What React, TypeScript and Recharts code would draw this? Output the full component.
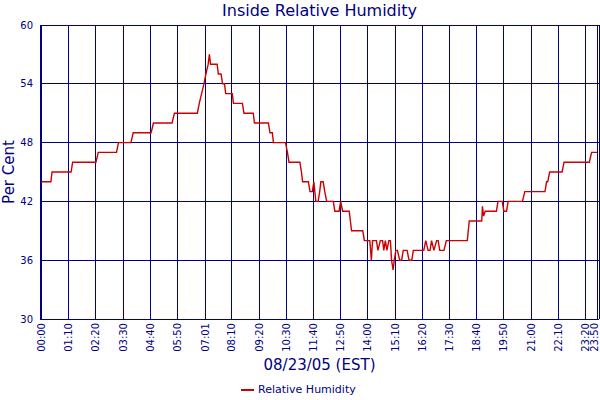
import React from "react";
import { LineChart, Line, XAxis, YAxis, CartesianGrid, ReferenceLine } from "recharts";

const NAVY = "#000080";
const RED = "#cc0000";
const FONT = "'DejaVu Sans', Verdana, sans-serif";

// minutes after midnight, 08/23/05
const minutes = [
  0, 24, 27, 76, 80, 140, 146, 193, 198, 230, 236, 282, 288, 336, 342, 401,
  406, 412, 418, 423, 429, 432, 435, 452, 455, 462, 466, 471, 474, 491, 494, 517,
  521, 545, 548, 584, 588, 594, 597, 628, 633, 637, 665, 669, 672, 687, 691, 697,
  701, 706, 712, 716, 719, 725, 729, 734, 751, 755, 766, 770, 775, 792, 798, 827,
  831, 845, 849, 852, 862, 866, 872, 878, 881, 885, 889, 894, 898, 901, 905, 908,
  912, 916, 922, 927, 931, 941, 946, 953, 957, 984, 989, 995, 1000, 1004, 1010, 1017,
  1021, 1025, 1036, 1042, 1096, 1101, 1133, 1135, 1138, 1142, 1171, 1175, 1186, 1190, 1197, 1201,
  1238, 1244, 1296, 1300, 1303, 1308, 1340, 1345, 1410, 1416, 1430,
];

const humidity = [
  44, 44, 45, 45, 46, 46, 47, 47, 48, 48, 49, 49, 50, 50, 51, 51,
  52, 53, 54, 55, 56, 57, 56, 56, 55, 55, 54, 54, 53, 53, 52, 52,
  51, 51, 50, 50, 49, 49, 48, 48, 47, 46, 46, 45, 44, 44, 43, 43,
  44, 42, 42, 43, 44, 44, 43, 42, 42, 41, 41, 42, 41, 41, 39, 39,
  38, 38, 36, 38, 38, 37, 38, 38, 37, 38, 37, 38, 38, 36, 35, 36,
  37, 37, 36, 36, 37, 37, 36, 36, 37, 37, 38, 37, 37, 38, 37, 38,
  38, 37, 37, 38, 38, 40, 40, 41.5, 40.5, 41, 41, 42, 42, 41, 41, 42,
  42, 43, 43, 44, 44, 45, 45, 46, 46, 47, 47,
];

const timeTicks = [0, 70, 140, 210, 280, 350, 421, 490, 560, 630, 700, 770, 840, 910, 980, 1050, 1120, 1190, 1260, 1330, 1400, 1430];
const humidityTicks = [30, 36, 42, 48, 54, 60];

const data = minutes.map((t, i) => ({ t, rh: humidity[i] }));

const pad = (n: number) => String(n).padStart(2, "0");
const fmtTime = (m: number) => `${pad(Math.floor(m / 60))}:${pad(m % 60)}`;

const TimeTick = (props: any) => {
  const { payload } = props;
  // keep the last label inside the picture
  const x = Math.min(props.x, 594);
  const y = 323;
  return (
    <text
      x={x}
      y={y}
      transform={`rotate(-90 ${x} ${y})`}
      textAnchor="end"
      dy="0.35em"
      fill={NAVY}
      fontSize={10}
      fontFamily={FONT}
    >
      {fmtTime(payload.value)}
    </text>
  );
};

export default function App() {
  return (
    <div style={{ position: "absolute", left: 0, top: 0, width: 600, height: 400, background: "#fff", fontFamily: FONT, color: NAVY }}>
      <div style={{ position: "absolute", top: 1, left: 40, width: 559, textAlign: "center", fontSize: 16 }}>
        Inside Relative Humidity
      </div>
      <LineChart width={600} height={400} data={data} margin={{ top: 25, right: 1, bottom: 0, left: 0 }}>
        <CartesianGrid stroke={NAVY} strokeWidth={1} shapeRendering="crispEdges" />
        <XAxis
          dataKey="t"
          type="number"
          domain={[-4, 1435]}
          ticks={timeTicks}
          interval={0}
          height={81}
          tickLine={false}
          axisLine={{ stroke: NAVY, shapeRendering: "crispEdges" }}
          tick={<TimeTick />}
        />
        <YAxis
          type="number"
          domain={[30, 60]}
          ticks={humidityTicks}
          width={40}
          tickLine={false}
          tickSize={5}
          tickMargin={2}
          axisLine={{ stroke: NAVY, shapeRendering: "crispEdges" }}
          tick={{ fill: NAVY, fontSize: 10, fontFamily: FONT }}
        />
        <ReferenceLine x={1435} stroke={NAVY} shapeRendering="crispEdges" />
        <Line
          type="linear"
          dataKey="rh"
          name="Relative Humidity"
          stroke={RED}
          strokeWidth={1.4}
          dot={false}
          isAnimationActive={false}
        />
      </LineChart>
      <div
        style={{
          position: "absolute",
          left: 0,
          top: 172,
          fontSize: 15,
          whiteSpace: "nowrap",
          transform: "translate(9px, 0) rotate(-90deg) translate(-50%, -50%)",
          transformOrigin: "0 0",
        }}
      >
        Per Cent
      </div>
      <div style={{ position: "absolute", top: 356, left: 40, width: 559, textAlign: "center", fontSize: 15 }}>
        08/23/05 (EST)
      </div>
      <div style={{ position: "absolute", top: 383, left: 241, fontSize: 11, whiteSpace: "nowrap", display: "flex", alignItems: "center" }}>
        <span style={{ display: "inline-block", width: 13, height: 2, background: RED, marginRight: 4 }} />
        Relative Humidity
      </div>
    </div>
  );
}
